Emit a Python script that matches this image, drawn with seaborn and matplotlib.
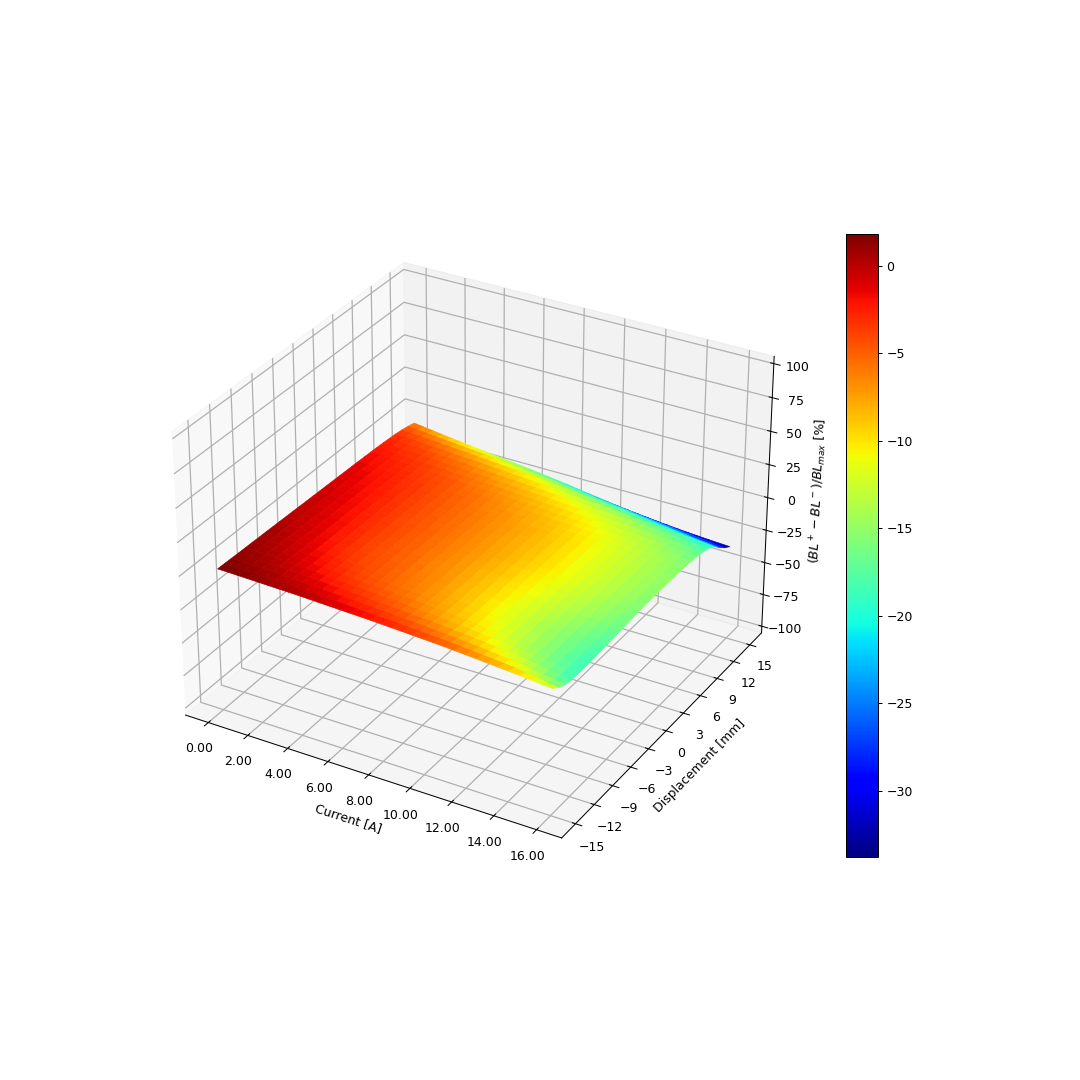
import numpy as np
import seaborn as sns
import matplotlib
matplotlib.use('Agg')
import matplotlib.pyplot as plt
from matplotlib.colors import ListedColormap
from matplotlib.ticker import FormatStrFormatter

# current axis, half an ampere per column
current = [0, 0.5, 1, 1.5, 2, 2.5, 3, 3.5, 4, 4.5, 5, 5.5, 6, 6.5, 7, 7.5, 8, 8.5, 9, 9.5, 10, 10.5, 11, 11.5, 12,
           12.5, 13, 13.5, 14, 14.5, 15, 15.5, 16]
# displacement axis, one row per mm
displacement = [-15, -14, -13, -12, -11, -10, -9, -8, -7, -6, -5, -4, -3, -2, -1, 0, 1, 2, 3, 4, 5, 6, 7, 8, 9, 10,
                11, 12, 13, 14, 15]

# (BL+ - BL-)/BLmax estimated from the colours, one list per displacement
d_m15 = [1.83, 1.7, 1.5, 1.3, 1.1, .9, .7, .5, .3, 0, -.3, -.6, -.9, -1.2, -1.5, -1.8, -2.2, -2.6, -3, -3.4, -3.8, -4.2, -4.7, -5.2, -5.8, -6.4, -7, -7.6, -8.2, -8.9, -9.6, -10.3, -11]
d_m14 = [1.7, 1.5, 1.3, 1, .8, .5, .2, -.1, -.3, -.7, -1, -1.4, -1.7, -2.1, -2.5, -2.8, -3.2, -3.6, -4.1, -4.5, -5, -5.6, -6.1, -6.7, -7.3, -8, -8.7, -9.4, -10.2, -11.3, -12.4, -13.7, -15]
d_m13 = [1.5, 1.2, 1, .7, .4, .1, -.3, -.6, -1, -1.4, -1.8, -2.2, -2.6, -3, -3.4, -3.8, -4.2, -4.7, -5.2, -5.7, -6.2, -6.8, -7.5, -8.1, -8.8, -9.6, -10.4, -11.2, -12, -13.3, -14.7, -16.1, -17.5]
d_m12 = [1.3, 1, .7, .4, .1, -.3, -.7, -1.2, -1.6, -2, -2.5, -2.9, -3.3, -3.7, -4.2, -4.6, -5, -5.5, -6.1, -6.6, -7.2, -7.9, -8.6, -9.3, -10, -10.9, -11.8, -12.6, -13.5, -14.8, -16, -17.3, -18.5]
d_m11 = [1.2, .9, .5, .2, -.2, -.7, -1.2, -1.6, -2.1, -2.6, -3, -3.5, -3.9, -4.3, -4.8, -5.2, -5.6, -6.2, -6.8, -7.4, -8, -8.7, -9.5, -10.2, -10.9, -11.8, -12.7, -13.6, -14.5, -15.6, -16.7, -17.7, -18.8]
d_m10 = [1.1, .7, .3, -.1, -.5, -1, -1.6, -2.1, -2.6, -3.1, -3.5, -4, -4.4, -4.8, -5.3, -5.7, -6.1, -6.7, -7.3, -7.9, -8.5, -9.2, -10, -10.7, -11.4, -12.3, -13.2, -14.1, -15, -16, -17, -17.9, -18.9]
d_m9 = [.9, .5, .1, -.4, -.8, -1.4, -1.9, -2.5, -3, -3.4, -3.9, -4.3, -4.7, -5.1, -5.6, -6, -6.4, -7, -7.6, -8.2, -8.8, -9.5, -10.3, -11, -11.7, -12.6, -13.4, -14.3, -15.1, -16, -16.9, -17.8, -18.7]
d_m8 = [.8, .3, -.1, -.6, -1, -1.6, -2.2, -2.7, -3.3, -3.7, -4.1, -4.5, -4.9, -5.3, -5.8, -6.2, -6.6, -7.2, -7.8, -8.4, -9, -9.7, -10.5, -11.2, -11.9, -12.7, -13.5, -14.3, -15.1, -15.9, -16.8, -17.6, -18.4]
d_m7 = [.6, .2, -.3, -.7, -1.2, -1.8, -2.4, -3, -3.6, -4, -4.3, -4.7, -5, -5.4, -5.9, -6.3, -6.7, -7.3, -7.9, -8.5, -9.1, -9.8, -10.6, -11.3, -12, -12.8, -13.5, -14.3, -15, -15.8, -16.6, -17.3, -18.1]
d_m6 = [.5, 0, -.5, -.9, -1.4, -2, -2.6, -3.1, -3.7, -4.1, -4.4, -4.8, -5.1, -5.5, -6, -6.4, -6.8, -7.4, -8, -8.5, -9.1, -9.8, -10.5, -11.2, -11.9, -12.6, -13.3, -14, -14.7, -15.5, -16.2, -17, -17.7]
d_m5 = [.3, -.2, -.6, -1.1, -1.5, -2.1, -2.7, -3.2, -3.8, -4.2, -4.5, -4.9, -5.2, -5.6, -6.1, -6.5, -6.9, -7.5, -8, -8.6, -9.1, -9.8, -10.4, -11.1, -11.7, -12.4, -13, -13.7, -14.4, -15.1, -15.9, -16.6, -17.3]
d_m4 = [.2, -.3, -.7, -1.2, -1.6, -2.2, -2.7, -3.3, -3.8, -4.2, -4.5, -4.9, -5.2, -5.6, -6.1, -6.5, -6.9, -7.4, -8, -8.5, -9, -9.6, -10.3, -10.9, -11.5, -12.2, -12.8, -13.5, -14.1, -14.8, -15.5, -16.2, -16.9]
d_m3 = [0, -.4, -.9, -1.3, -1.7, -2.2, -2.8, -3.3, -3.8, -4.2, -4.6, -4.9, -5.3, -5.7, -6.1, -6.5, -6.9, -7.4, -7.9, -8.4, -8.9, -9.5, -10.1, -10.7, -11.3, -11.9, -12.6, -13.2, -13.8, -14.5, -15.2, -15.8, -16.5]
d_m2 = [-.2, -.6, -1, -1.4, -1.8, -2.3, -2.8, -3.3, -3.8, -4.2, -4.6, -4.9, -5.3, -5.7, -6.1, -6.5, -6.9, -7.4, -7.9, -8.3, -8.8, -9.4, -10, -10.5, -11.1, -11.7, -12.4, -13, -13.6, -14.3, -14.9, -15.6, -16.2]
d_m1 = [-.3, -.7, -1.1, -1.5, -1.9, -2.4, -2.9, -3.3, -3.8, -4.2, -4.6, -4.9, -5.3, -5.7, -6.1, -6.5, -6.9, -7.4, -7.8, -8.3, -8.7, -9.3, -9.8, -10.4, -10.9, -11.5, -12.2, -12.8, -13.4, -14, -14.7, -15.3, -15.9]
d_0 = [-.5, -.8, -1.2, -1.6, -2, -2.5, -3, -3.4, -3.9, -4.3, -4.6, -5, -5.3, -5.7, -6.1, -6.5, -6.9, -7.3, -7.8, -8.2, -8.6, -9.2, -9.7, -10.3, -10.8, -11.4, -12, -12.6, -13.2, -13.8, -14.5, -15.1, -15.7]
d_1 = [-.6, -1, -1.4, -1.7, -2.1, -2.6, -3, -3.5, -3.9, -4.3, -4.6, -5, -5.3, -5.7, -6.1, -6.5, -6.9, -7.3, -7.8, -8.2, -8.6, -9.1, -9.6, -10.2, -10.7, -11.3, -11.9, -12.5, -13.1, -13.7, -14.3, -14.9, -15.5]
d_2 = [-.8, -1.1, -1.5, -1.8, -2.2, -2.6, -3, -3.5, -3.9, -4.3, -4.7, -5, -5.4, -5.8, -6.2, -6.5, -6.9, -7.3, -7.8, -8.2, -8.6, -9.1, -9.6, -10.2, -10.7, -11.3, -11.9, -12.4, -13, -13.6, -14.2, -14.8, -15.4]
d_3 = [-.9, -1.3, -1.6, -2, -2.3, -2.7, -3.2, -3.6, -4, -4.4, -4.7, -5.1, -5.4, -5.8, -6.2, -6.6, -7, -7.4, -7.8, -8.2, -8.6, -9.1, -9.6, -10.2, -10.7, -11.3, -11.9, -12.4, -13, -13.6, -14.2, -14.7, -15.3]
d_4 = [-1.1, -1.4, -1.7, -2.1, -2.4, -2.8, -3.2, -3.6, -4, -4.4, -4.8, -5.1, -5.5, -5.9, -6.3, -6.6, -7, -7.4, -7.8, -8.2, -8.6, -9.1, -9.6, -10.2, -10.7, -11.3, -11.9, -12.4, -13, -13.6, -14.2, -14.7, -15.3]
d_5 = [-1.2, -1.5, -1.9, -2.2, -2.5, -2.9, -3.3, -3.7, -4.1, -4.5, -4.9, -5.2, -5.6, -6, -6.4, -6.7, -7.1, -7.5, -7.9, -8.3, -8.7, -9.2, -9.8, -10.3, -10.8, -11.4, -11.9, -12.5, -13, -13.6, -14.2, -14.7, -15.3]
d_6 = [-1.4, -1.7, -2.1, -2.4, -2.7, -3.1, -3.5, -3.8, -4.2, -4.6, -5, -5.3, -5.7, -6.1, -6.5, -6.9, -7.3, -7.7, -8.1, -8.5, -8.9, -9.4, -9.9, -10.4, -10.9, -11.5, -12, -12.6, -13.1, -13.7, -14.3, -14.8, -15.4]
d_7 = [-1.6, -1.9, -2.3, -2.6, -2.9, -3.3, -3.7, -4, -4.4, -4.8, -5.2, -5.6, -6, -6.4, -6.8, -7.2, -7.6, -8, -8.4, -8.8, -9.2, -9.7, -10.2, -10.6, -11.1, -11.7, -12.2, -12.8, -13.3, -13.9, -14.5, -15, -15.6]
d_8 = [-1.8, -2.1, -2.5, -2.8, -3.1, -3.5, -3.9, -4.2, -4.6, -5, -5.5, -5.9, -6.3, -6.7, -7.1, -7.5, -7.9, -8.3, -8.8, -9.2, -9.6, -10.1, -10.6, -11, -11.5, -12.1, -12.6, -13.2, -13.7, -14.3, -14.9, -15.4, -16]
d_9 = [-2, -2.4, -2.7, -3.1, -3.4, -3.8, -4.2, -4.6, -5, -5.4, -5.9, -6.3, -6.7, -7.1, -7.6, -8, -8.4, -8.9, -9.3, -9.8, -10.2, -10.7, -11.2, -11.6, -12.1, -12.7, -13.2, -13.8, -14.3, -14.9, -15.5, -16, -16.6]
d_10 = [-2.3, -2.7, -3.1, -3.4, -3.8, -4.2, -4.7, -5.1, -5.5, -6, -6.4, -6.9, -7.3, -7.8, -8.2, -8.7, -9.1, -9.6, -10.1, -10.5, -11, -11.5, -12, -12.5, -13, -13.5, -14, -14.6, -15.1, -15.7, -16.2, -16.8, -17.4]
d_11 = [-2.7, -3.1, -3.5, -3.9, -4.3, -4.8, -5.2, -5.7, -6.1, -6.6, -7.1, -7.6, -8.1, -8.6, -9, -9.5, -10, -10.5, -11, -11.5, -12, -12.5, -13, -13.6, -14.1, -14.7, -15.2, -15.8, -16.3, -16.9, -17.5, -18, -18.6]
d_12 = [-3.1, -3.6, -4.1, -4.5, -5, -5.5, -6, -6.5, -7, -7.5, -8.1, -8.6, -9.1, -9.6, -10.1, -10.6, -11.1, -11.8, -12.5, -13.1, -13.7, -14.3, -14.9, -15.5, -16.1, -16.7, -17.3, -17.9, -18.5, -19.1, -19.8, -20.5, -21.2]
d_13 = [-3.8, -4.4, -4.9, -5.5, -6, -6.6, -7.2, -7.7, -8.3, -8.9, -9.5, -10, -10.6, -11.2, -11.8, -12.5, -13.2, -14, -14.7, -15.5, -16.2, -17, -17.8, -18.5, -19.3, -20.2, -21.1, -22, -22.9, -23.8, -24.7, -25.5, -26.3]
d_14 = [-4.8, -5.5, -6.2, -6.9, -7.6, -8.3, -9, -9.6, -10.3, -11.1, -11.9, -12.7, -13.5, -14.3, -15.1, -15.9, -16.8, -17.7, -18.6, -19.5, -20.4, -21.3, -22.2, -23.1, -24, -24.8, -25.6, -26.4, -27.2, -28, -28.8, -29.6, -30.6]
d_15 = [-6, -7, -8, -9, -10, -10.9, -11.8, -12.6, -13.5, -14.4, -15.3, -16.1, -17, -18, -19, -20, -21, -22.2, -23.4, -24.5, -25.6, -26.6, -27.5, -28.4, -29.2, -30, -30.7, -31.4, -32, -32.5, -33, -33.4, -33.8]

asym = np.array([d_m15, d_m14, d_m13, d_m12, d_m11, d_m10, d_m9, d_m8, d_m7, d_m6, d_m5, d_m4, d_m3, d_m2, d_m1, d_0,
                 d_1, d_2, d_3, d_4, d_5, d_6, d_7, d_8, d_9, d_10, d_11, d_12, d_13, d_14, d_15])

X, Y = np.meshgrid(current, displacement)

# seaborn refuses 'jet' in color_palette, mpl_palette still hands it out
jet = ListedColormap(sns.mpl_palette('jet', 256))

plt.rcParams['grid.linewidth'] = 1.0

fig = plt.figure(figsize=(12, 12), dpi=90)
ax = fig.add_subplot(projection='3d')

surf = ax.plot_surface(X, Y, asym, cmap=jet, vmin=-33.8, vmax=1.83, linewidth=0.5,
                       antialiased=True, rstride=1, cstride=1)
# edges in the facet colour hide the seams between antialiased facets
surf.set_edgecolor('face')

ax.set_zlim(-105.3, 105.3)
ax.set_xticks([0, 2, 4, 6, 8, 10, 12, 14, 16])
ax.set_yticks([-15, -12, -9, -6, -3, 0, 3, 6, 9, 12, 15])
ax.set_zticks([-100, -75, -50, -25, 0, 25, 50, 75, 100])
ax.xaxis.set_major_formatter(FormatStrFormatter('%.2f'))
ax.set_xlabel('Current [A]')
ax.set_ylabel('Displacement [mm]')
ax.set_zlabel(r'$(BL^+ - BL^-)/BL_{max}$ [%]')

fig.colorbar(surf, shrink=0.75)

plt.savefig('out.png', dpi=90)
